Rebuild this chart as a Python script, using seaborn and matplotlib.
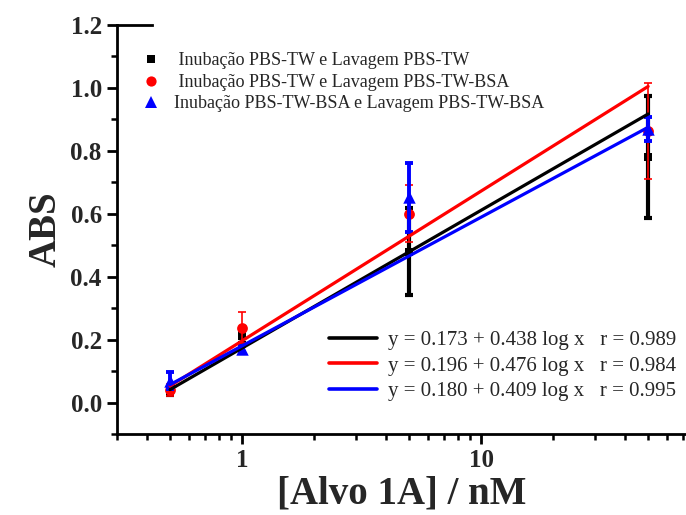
import numpy as np
import pandas as pd
import matplotlib
matplotlib.use("Agg")
import matplotlib.pyplot as plt
import seaborn as sns
from matplotlib.ticker import LogLocator, MultipleLocator, FuncFormatter, NullFormatter
from matplotlib.lines import Line2D

# Target concentration (nM)
conc = [0.5, 1, 5, 50]

# Absorbance means and standard deviations for each protocol
abs_tw = [0.035, 0.210, 0.480, 0.780]
err_tw = [0.010, 0.020, 0.137, 0.195]

abs_tw_bsa = [0.040, 0.238, 0.600, 0.863]
err_tw_bsa = [0.018, 0.050, 0.090, 0.152]

abs_bsa_bsa = [0.070, 0.170, 0.652, 0.870]
err_bsa_bsa = [0.028, 0.010, 0.110, 0.038]

series_labels = [
    " Inubação PBS-TW e Lavagem PBS-TW",
    " Inubação PBS-TW e Lavagem PBS-TW-BSA",
    "Inubação PBS-TW-BSA e Lavagem PBS-TW-BSA",
]

# Linear fits y = a + b log x
intercepts = [0.173, 0.196, 0.180]
slopes = [0.438, 0.476, 0.409]
r_values = [0.989, 0.984, 0.995]
fit_range = [0.5, 50]

sns.set_style("ticks")
plt.rcParams["font.family"] = ["Liberation Serif", "DejaVu Serif"]
plt.rcParams["mathtext.fontset"] = "stix"

colors = ["black", "red", "blue"]
markers = ["s", "o", "^"]
marker_sizes = [40, 60, 80]
bar_widths = [3.0, 1.2, 2.8]

means = [abs_tw, abs_tw_bsa, abs_bsa_bsa]
errs = [err_tw, err_tw_bsa, err_bsa_bsa]

fig = plt.figure(figsize=(6.86, 5.15), dpi=100)
ax = fig.add_axes([0.1706, 0.1573, 0.8294, 0.7942])

point_handles = []
for i in range(3):
    df = pd.DataFrame({"conc": conc, "abs": means[i], "err": errs[i]})
    ax.errorbar(df["conc"], df["abs"], yerr=df["err"], fmt="none",
                ecolor=colors[i], elinewidth=bar_widths[i], capsize=3,
                capthick=bar_widths[i], zorder=2 + i)
    sns.scatterplot(data=df, x="conc", y="abs", marker=markers[i],
                    color=colors[i], s=marker_sizes[i], linewidth=0,
                    ax=ax, zorder=2.5 + i, legend=False)
    point_handles.append(Line2D([], [], linestyle="none", marker=markers[i],
                                color=colors[i], markersize=np.sqrt(marker_sizes[i]) * 0.95,
                                markeredgewidth=0))

line_handles = []
line_labels = []
for i in range(3):
    xf = np.array(fit_range)
    fit_df = pd.DataFrame({"conc": xf, "abs": intercepts[i] + slopes[i] * np.log10(xf)})
    sns.lineplot(data=fit_df, x="conc", y="abs", color=colors[i], linewidth=2.3,
                 ax=ax, zorder=6 + i)
    line_handles.append(Line2D([], [], color=colors[i], linewidth=2.6))
    line_labels.append(f"y = {intercepts[i]:.3f} + {slopes[i]:.3f} log x   r = {r_values[i]:.3f}")

ax.set_xscale("log")
ax.set_xlim(0.3, 72)
ax.set_ylim(-0.1, 1.2)

ax.yaxis.set_major_locator(MultipleLocator(0.2))
ax.yaxis.set_minor_locator(MultipleLocator(0.1))
ax.yaxis.set_major_formatter(FuncFormatter(lambda v, _: f"{v:.1f}"))
ax.xaxis.set_major_locator(LogLocator(base=10))
ax.xaxis.set_minor_locator(LogLocator(base=10, subs=np.arange(2, 10)))
ax.xaxis.set_major_formatter(FuncFormatter(lambda v, _: f"{v:g}"))
ax.xaxis.set_minor_formatter(NullFormatter())

for side in ["left", "bottom", "top"]:
    ax.spines[side].set_linewidth(2.0)
    ax.spines[side].set_color("black")
ax.spines["right"].set_visible(False)
# only a short stub of the top frame remains next to the corner
ax.spines["top"].set_bounds(0.3, 0.42)

ax.tick_params(axis="both", which="major", direction="out", length=7, width=2,
               labelsize=18, color="black", pad=4, top=False, right=False)
ax.tick_params(axis="both", which="minor", direction="out", length=4, width=1.8,
               color="black", top=False, right=False)
for lab in ax.get_xticklabels() + ax.get_yticklabels():
    lab.set_fontweight("bold")

ax.set_xlabel("[Alvo 1A] / nM", fontsize=28, fontweight="bold", labelpad=2)
ax.set_ylabel("ABS", fontsize=28, fontweight="bold", labelpad=4)

leg1 = ax.legend(point_handles, series_labels, loc="upper left",
                 bbox_to_anchor=(0.036, 0.933), frameon=False, fontsize=13,
                 handlelength=1.5, handletextpad=0.5, labelspacing=0.25,
                 borderpad=0, borderaxespad=0)
ax.add_artist(leg1)
ax.legend(line_handles, line_labels, loc="upper left",
          bbox_to_anchor=(0.3726, 0.253), frameon=False, fontsize=15,
          handlelength=2.3, handletextpad=0.55, labelspacing=0.29,
          borderpad=0, borderaxespad=0)

fig.savefig("out.png", dpi=100)
